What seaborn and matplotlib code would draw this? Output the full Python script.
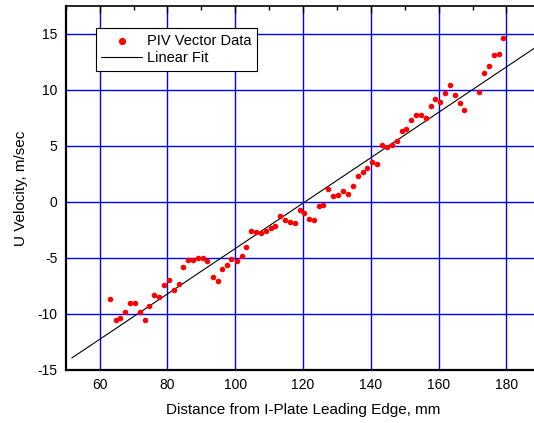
import numpy as np
import pandas as pd
import matplotlib
matplotlib.use("Agg")
import matplotlib.pyplot as plt
from matplotlib.ticker import MultipleLocator
import seaborn as sns

# PIV data
dist_mm = [63.2, 64.7, 66.1, 67.6, 68.9, 70.4, 71.9, 73.3, 74.6, 76.1,
           77.5, 79.0, 80.5, 81.8, 83.3, 84.7, 86.0, 87.5, 89.0, 90.5,
           91.8, 93.3, 94.8, 96.2, 97.5, 98.9, 100.4, 101.9, 103.3, 104.7,
           106.1, 107.6, 109.1, 110.5, 111.8, 113.3, 114.8, 116.3, 117.6, 119.0,
           120.3, 121.7, 123.2, 124.7, 126.0, 127.5, 128.9, 130.4, 131.8, 133.2,
           134.7, 136.2, 137.6, 138.9, 140.4, 141.8, 143.3, 144.8, 146.2, 147.6,
           149.1, 150.5, 151.9, 153.3, 154.8, 156.2, 157.6, 159.0, 160.3, 161.8,
           163.3, 164.7, 166.2, 167.5, 171.9, 173.4, 174.8, 176.3, 177.7, 179.1]
u_vel = [-8.71, -10.56, -10.32, -9.87, -9.04, -9.02, -9.82, -10.56, -9.29, -8.30,
         -8.45, -7.46, -6.93, -7.88, -7.35, -5.83, -5.18, -5.18, -5.00, -5.00,
         -5.29, -6.72, -7.08, -5.98, -5.59, -5.14, -5.27, -4.79, -4.07, -2.59,
         -2.73, -2.77, -2.62, -2.32, -2.17, -1.30, -1.63, -1.79, -1.93, -0.74,
         -0.95, -1.57, -1.61, -0.38, -0.27, 1.13, 0.48, 0.60, 0.96, 0.71,
         1.40, 2.27, 2.62, 3.04, 3.52, 3.34, 5.04, 4.86, 5.06, 5.42,
         6.29, 6.49, 7.32, 7.71, 7.71, 7.50, 8.54, 9.14, 8.90, 9.71,
         10.45, 9.50, 8.84, 8.19, 9.80, 11.49, 12.09, 13.07, 13.21, 14.61]

# linear fit end points
fit_x = [51.8, 190.0]
fit_y = [-13.93, 14.07]

df = pd.DataFrame({"x": dist_mm, "u": u_vel})
fit = pd.DataFrame({"x": fit_x, "u": fit_y})

sns.set_style("white")
plt.rcParams["font.family"] = ["Liberation Sans", "DejaVu Sans"]
plt.rcParams["axes.unicode_minus"] = False
plt.rcParams["text.color"] = "black"
plt.rcParams["axes.labelcolor"] = "black"
plt.rcParams["xtick.color"] = "black"
plt.rcParams["ytick.color"] = "black"

fig = plt.figure(figsize=(5.34, 4.23), dpi=100)
ax = fig.add_axes([0.123, 0.1253, 0.889, 0.8612])

ax.grid(True, color="blue", linewidth=1.0)
ax.set_axisbelow(True)

sns.scatterplot(data=df, x="x", y="u", ax=ax, color="red", s=16,
                linewidth=0, label="PIV Vector Data", zorder=3)
sns.lineplot(data=fit, x="x", y="u", ax=ax, color="black", linewidth=0.8,
             label="Linear Fit", zorder=2)

ax.set_xlim(50, 190)
ax.set_ylim(-15, 17.5)
ax.xaxis.set_major_locator(MultipleLocator(20))
ax.xaxis.set_minor_locator(MultipleLocator(10))
ax.yaxis.set_major_locator(MultipleLocator(5))
ax.yaxis.set_minor_locator(MultipleLocator(2.5))
ax.tick_params(which="both", direction="in", top=True, right=False,
               labelsize=10, color="black", labelcolor="black", pad=6)
ax.tick_params(which="major", length=5, width=1)
ax.tick_params(which="minor", length=3, width=1)

for side in ["left", "bottom"]:
    ax.spines[side].set_linewidth(1.6)
ax.spines["top"].set_linewidth(1.2)
ax.spines["right"].set_visible(False)
for sp in ax.spines.values():
    sp.set_color("black")

ax.set_xlabel("Distance from I-Plate Leading Edge, mm", fontsize=11, labelpad=8)
ax.set_ylabel("U Velocity, m/sec", fontsize=11, labelpad=7)

leg = ax.legend(loc="upper left", bbox_to_anchor=(0.179, 0.934),
                bbox_transform=fig.transFigure, fontsize=10.5,
                frameon=True, fancybox=False, framealpha=1,
                edgecolor="black", handlelength=2.8, borderpad=0.4,
                labelspacing=0.25, handletextpad=0.3, borderaxespad=0,
                markerscale=1.3)
leg.get_frame().set_linewidth(0.8)

fig.savefig("out.png", dpi=100)
